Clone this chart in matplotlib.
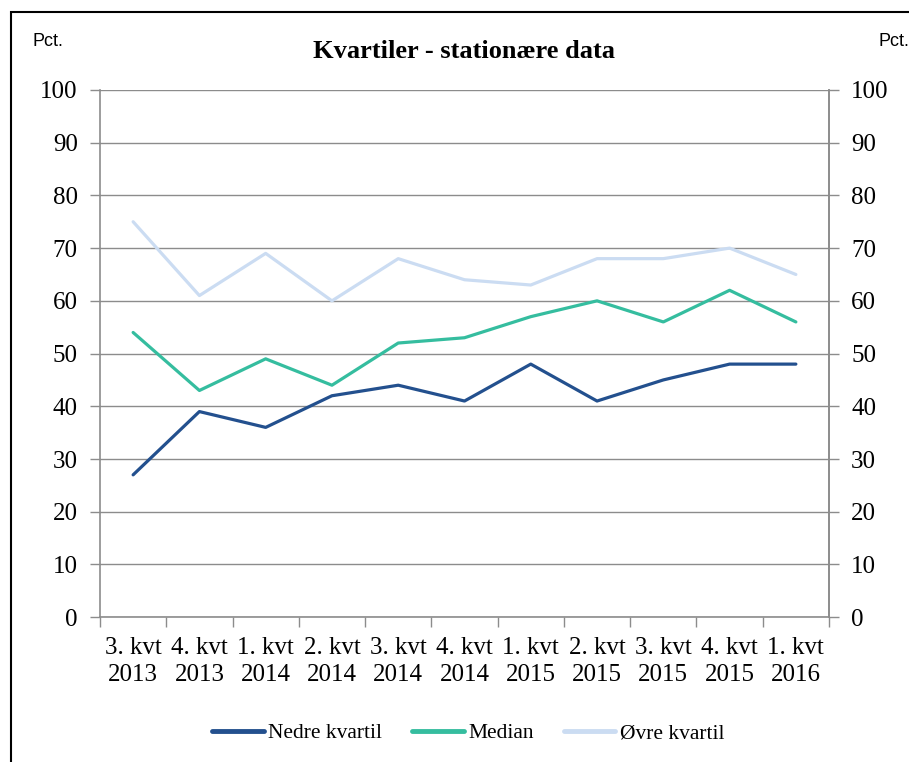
import matplotlib
matplotlib.use("Agg")
import matplotlib.pyplot as plt
from matplotlib.patches import Rectangle
import numpy as np

categories = ["3. kvt\n2013", "4. kvt\n2013", "1. kvt\n2014", "2. kvt\n2014", "3. kvt\n2014",
              "4. kvt\n2014", "1. kvt\n2015", "2. kvt\n2015", "3. kvt\n2015", "4. kvt\n2015",
              "1. kvt\n2016"]
nedre = [27, 39, 36, 42, 44, 41, 48, 41, 45, 48, 48]
median = [54, 43, 49, 44, 52, 53, 57, 60, 56, 62, 56]
ovre = [75, 61, 69, 60, 68, 64, 63, 68, 68, 70, 65]
yticks = [0, 10, 20, 30, 40, 50, 60, 70, 80, 90, 100]

serif = "Liberation Serif"
fig = plt.figure(figsize=(9.09, 7.62), dpi=100)
ax = fig.add_axes([0.110, 0.190, 0.802, 0.692])
x = np.arange(len(categories))
grid_c = "#8c8c8c"

ax.plot(x, nedre, color="#23508e", lw=2.3, label="Nedre kvartil", solid_capstyle="round")
ax.plot(x, median, color="#35bd9f", lw=2.3, label="Median", solid_capstyle="round")
ax.plot(x, ovre, color="#cbdcf2", lw=2.3, label="Øvre kvartil", solid_capstyle="round")

ax.set_xlim(-0.5, len(categories) - 0.5)
ax.set_ylim(0, 100)
ax.set_yticks(yticks)
ax.yaxis.grid(True, color=grid_c, lw=1)
ax.set_axisbelow(True)
ax.set_xticks(x)
ax.set_xticklabels(categories, fontfamily=serif, fontsize=18, linespacing=1.3)
ax.tick_params(axis="x", length=0, pad=14)
ax.set_xticks(np.arange(-0.5, len(categories), 1), minor=True)
ax.tick_params(axis="x", which="minor", length=7, color=grid_c, width=1)
ax.tick_params(axis="y", length=7, color=grid_c, width=1, labelsize=18, pad=9)
for lab in ax.get_yticklabels():
    lab.set_fontfamily(serif)
for s in ["top"]:
    ax.spines[s].set_visible(False)
for s in ["left", "bottom", "right"]:
    ax.spines[s].set_color(grid_c)
    ax.spines[s].set_linewidth(1.2)

ax2 = ax.twinx()
ax2.set_ylim(0, 100)
ax2.set_yticks(yticks)
ax2.tick_params(axis="y", length=7, color=grid_c, width=1, labelsize=18, pad=9)
for lab in ax2.get_yticklabels():
    lab.set_fontfamily(serif)
for s in ["top", "left", "bottom"]:
    ax2.spines[s].set_visible(False)
ax2.spines["right"].set_color(grid_c)
ax2.spines["right"].set_linewidth(1.2)

fig.text(0.511, 0.933, "Kvartiler - stationære data", ha="center", va="center",
         fontfamily=serif, fontweight="bold", fontsize=19)
fig.text(0.036, 0.945, "Pct.", ha="left", va="center", fontfamily="Liberation Sans", fontsize=13)
fig.text(0.966, 0.945, "Pct.", ha="left", va="center", fontfamily="Liberation Sans", fontsize=13)

leg = fig.legend(loc="center", bbox_to_anchor=(0.515, 0.038), ncol=3, frameon=False,
                 prop={"family": serif, "size": 15.5}, handlelength=2.4, handletextpad=0.2,
                 columnspacing=1.4)
for h in leg.get_lines():
    h.set_linewidth(3.5)

fig.patches.append(Rectangle((0.012, -0.1), 1.2, 1.084, transform=fig.transFigure,
                             fill=False, edgecolor="black", lw=1.5))

fig.savefig("out.png", dpi=100)
